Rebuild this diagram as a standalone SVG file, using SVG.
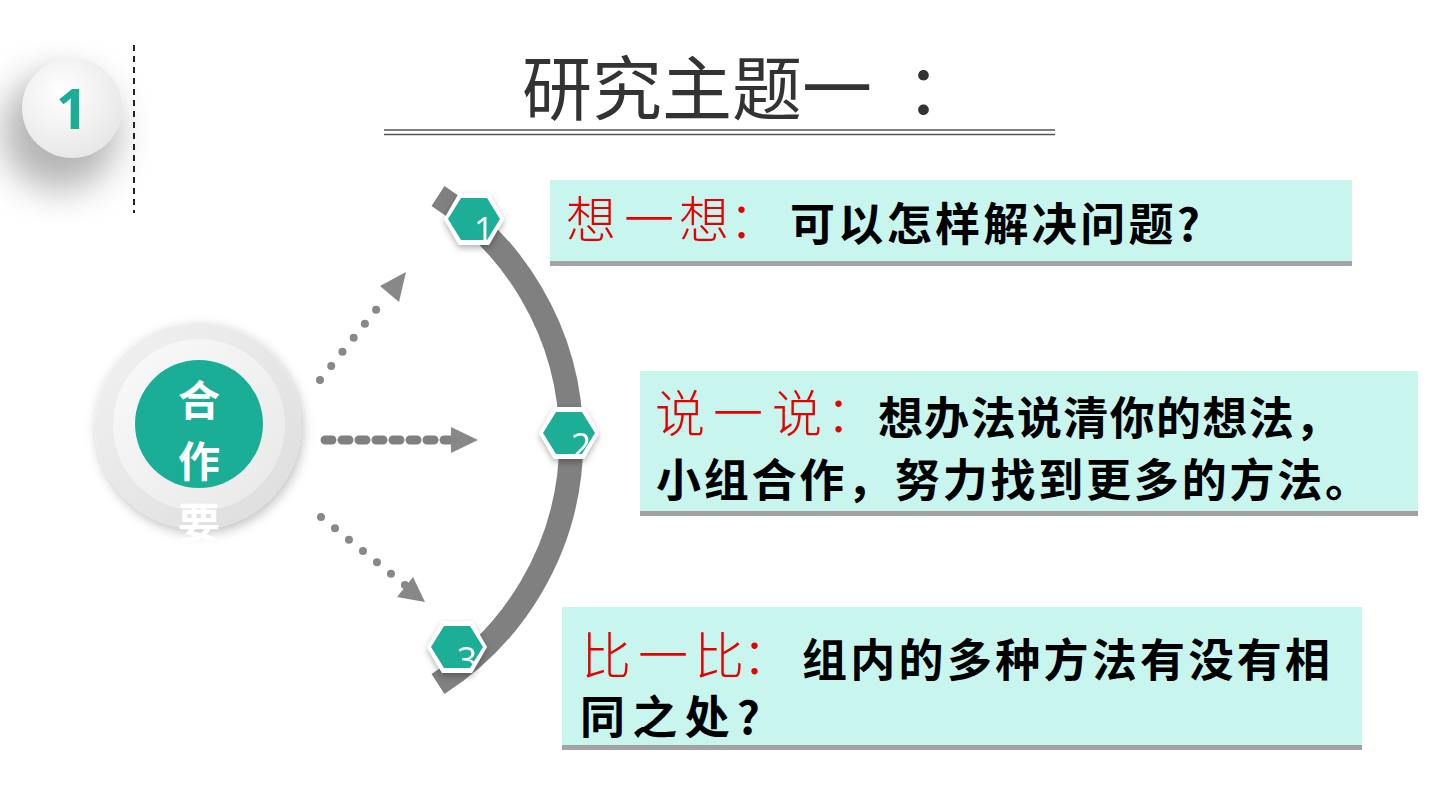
<svg xmlns="http://www.w3.org/2000/svg" width="1440" height="810" viewBox="0 0 1440 810">
<defs>
<style>
.title{font-family:"Noto Sans CJK SC",sans-serif;font-size:70px;fill:#333333;}
.red{font-family:"Liberation Serif","Noto Sans CJK SC",serif;font-size:50px;fill:#E60000;font-weight:300;}
.blk{font-family:"Noto Sans CJK SC",sans-serif;font-size:45px;fill:#000000;font-weight:700;}
.box{fill:#C8F5EE;}
.boxsh{fill:#A3A3A3;}
.hexo{fill:#FFFFFF;}
.hexi{fill:#1AAE96;}
.num{font-family:"Open Sans","Noto Sans",sans-serif;font-size:36px;fill:#FFFFFF;}
.dots{fill:none;stroke:#888888;stroke-width:8;stroke-linecap:round;stroke-dasharray:0 18;}
.dash{fill:none;stroke:#808080;stroke-width:9;stroke-linecap:round;stroke-dasharray:7 10;}
.ah{fill:#888888;}
</style>
<filter id="bigsh" x="-1" y="-1" width="3" height="3"><feGaussianBlur stdDeviation="18"/></filter>
<filter id="sh" x="-0.5" y="-0.5" width="2" height="2"><feDropShadow dx="0" dy="3" stdDeviation="3" flood-color="#000" flood-opacity="0.3"/></filter>
<filter id="sh2" x="-0.5" y="-0.5" width="2" height="2"><feDropShadow dx="2" dy="4" stdDeviation="6" flood-color="#000" flood-opacity="0.25"/></filter>
<radialGradient id="g1" cx="0.4" cy="0.35" r="0.7"><stop offset="0" stop-color="#FFFFFF"/><stop offset="1" stop-color="#E6E6E6"/></radialGradient>
<linearGradient id="g2" x1="0" y1="0" x2="1" y2="1"><stop offset="0" stop-color="#F2F2F2"/><stop offset="1" stop-color="#DCDCDC"/></linearGradient>
<linearGradient id="g3" x1="0" y1="0" x2="1" y2="1"><stop offset="0" stop-color="#FAFAFA"/><stop offset="1" stop-color="#E8E8E8"/></linearGradient>
<clipPath id="c1"><polygon points="448,219 461,198 487,198 500,219 487,240 461,240"/></clipPath>
<clipPath id="c2"><polygon points="543,433 556,412 582,412 595,433 582,454 556,454"/></clipPath>
<clipPath id="c3"><polygon points="431,647 444,626 470,626 483,647 470,668 444,668"/></clipPath>
</defs>
<rect width="1440" height="810" fill="#FFFFFF"/>

<g id="badge">
<circle cx="60" cy="132" r="58" fill="#777777" opacity="0.55" filter="url(#bigsh)"/>
<circle cx="72" cy="108" r="50" fill="url(#g1)"/>
<text x="72" y="129" text-anchor="middle" font-family="Open Sans, Noto Sans, sans-serif" font-weight="700" font-size="56" fill="#1AAE96">1</text>
<line x1="134" y1="45" x2="134" y2="213" stroke="#222222" stroke-width="2" stroke-dasharray="6 5"/>
</g>

<g id="title">
<text class="title" x="522 592 662 732 802 906" y="115">研究主题一：</text>
<line x1="384" y1="130" x2="1055" y2="130" stroke="#555555" stroke-width="1.5"/>
<line x1="384" y1="134.5" x2="1055" y2="134.5" stroke="#555555" stroke-width="1.5"/>
</g>

<g id="hub">
<circle cx="198" cy="426" r="103" fill="url(#g2)" filter="url(#sh2)"/>
<circle cx="199" cy="425" r="86" fill="url(#g3)"/>
<circle cx="199" cy="424" r="64" fill="#1AAE96"/>
<g font-family="Noto Sans CJK SC, sans-serif" font-weight="700" font-size="42" fill="#FFFFFF" text-anchor="middle" dominant-baseline="central">
<text x="199" y="397">合</text>
<text x="199" y="458">作</text>
<text x="199" y="519">要</text>
</g>
</g>

<g id="connectors">
<line class="dots" x1="320" y1="380" x2="387" y2="296"/>
<polygon class="ah" points="406,272 399,302 380,286"/>
<line class="dash" x1="325" y1="440" x2="452" y2="440"/>
<polygon class="ah" points="478,440 451,427 451,453"/>
<line class="dots" x1="321" y1="517" x2="405" y2="585"/>
<polygon class="ah" points="425,602 397,597 413,577"/>
</g>

<g id="arc">
<path d="M 438 196 A 290 290 0 0 1 438 684" fill="none" stroke="#808080" stroke-width="24"/>
</g>

<g id="hex1" filter="url(#sh)">
<polygon class="hexo" points="444,219 459,193 489,193 504,219 489,245 459,245"/>
<polygon class="hexi" points="448,219 461,198 487,198 500,219 487,240 461,240"/>
<text class="num" x="484" y="243" text-anchor="middle" clip-path="url(#c1)">1</text>
</g>
<g id="hex2" filter="url(#sh)">
<polygon class="hexo" points="539,433 554,407 584,407 599,433 584,459 554,459"/>
<polygon class="hexi" points="543,433 556,412 582,412 595,433 582,454 556,454"/>
<text class="num" x="581" y="459" text-anchor="middle" clip-path="url(#c2)">2</text>
</g>
<g id="hex3" filter="url(#sh)">
<polygon class="hexo" points="427,647 442,621 472,621 487,647 472,673 442,673"/>
<polygon class="hexi" points="431,647 444,626 470,626 483,647 470,668 444,668"/>
<text class="num" x="467" y="673" text-anchor="middle" clip-path="url(#c3)">3</text>
</g>

<g id="box1">
<rect class="boxsh" x="550" y="184" width="802" height="82"/>
<rect class="box" x="550" y="180" width="802" height="81"/>
<text class="red" x="566 624 679 729" y="221" dominant-baseline="central">想一想：</text>
<text class="blk" x="790" y="221" dominant-baseline="central" textLength="410" lengthAdjust="spacing">可以怎样解决问题?</text>
</g>

<g id="box2">
<rect class="boxsh" x="640" y="375" width="778" height="141"/>
<rect class="box" x="640" y="371" width="778" height="140"/>
<text class="red" x="655 713 772 826" y="415" dominant-baseline="central">说一说：</text>
<text class="blk" x="878" y="415" dominant-baseline="central" textLength="462" lengthAdjust="spacing">想办法说清你的想法，</text>
<text class="blk" x="656" y="477" dominant-baseline="central" textLength="714" lengthAdjust="spacing">小组合作，努力找到更多的方法。</text>
</g>

<g id="box3">
<rect class="boxsh" x="562" y="611" width="800" height="139"/>
<rect class="box" x="562" y="607" width="800" height="138"/>
<text class="red" x="581 638 694 742" y="657" dominant-baseline="central">比一比：</text>
<text class="blk" x="802" y="657" dominant-baseline="central" textLength="528" lengthAdjust="spacing">组内的多种方法有没有相</text>
<text class="blk" x="580" y="714" dominant-baseline="central" textLength="180" lengthAdjust="spacing">同之处?</text>
</g>
</svg>
